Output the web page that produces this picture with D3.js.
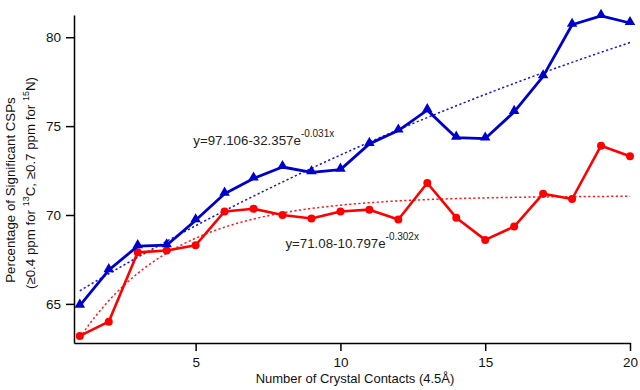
<!DOCTYPE html>
<html>
<head>
<meta charset="utf-8">
<script src="https://cdn.jsdelivr.net/npm/d3@7"></script>
<style>
  body { margin: 0; background: #fff; }
  svg { font-family: "Liberation Sans", Arial, sans-serif; }
  .axis path, .axis line { stroke: #000; stroke-width: 1.5; }
  .axis text { font-size: 13.5px; fill: #111; }
</style>
</head>
<body>
<svg id="chart" width="640" height="390"></svg>
<script>
// number of crystal contacts
var contacts = [1,2,3,4,5,6,7,8,9,10,11,12,13,14,15,16,17,18,19,20];
// blue triangles
var blueVals = [64.9,66.9,68.25,68.3,69.7,71.2,72.05,72.7,72.4,72.55,74.0,74.75,75.9,74.35,74.3,75.8,77.8,80.7,81.2,80.8];
// red circles
var redVals = [63.2,64.0,67.9,68.0,68.3,70.2,70.35,70.0,69.8,70.2,70.3,69.75,71.8,69.85,68.6,69.35,71.2,70.9,73.9,73.3];
// fits y = a - b*exp(c*x), as printed on the chart
var blueFit = [97.106, 32.357, -0.031];
var redFit = [71.08, 10.797, -0.302];
var xTicks = [5,10,15,20];
var yTicks = [65,70,75,80];

var svg = d3.select("#chart");
var pLeft = 74, pRight = 630, pTop = 15, pBottom = 343;

var x = d3.scaleLinear().domain([0.8, 20]).range([pLeft, pRight]);
var y = d3.scaleLinear().domain([62.8, 81.25]).range([pBottom, pTop]);

svg.append("g")
  .attr("class", "axis")
  .attr("transform", "translate(0," + pBottom + ")")
  .call(d3.axisBottom(x).tickValues(xTicks).tickSize(8).tickSizeOuter(0).tickPadding(6));

svg.append("g")
  .attr("class", "axis")
  .attr("transform", "translate(" + pLeft + ",0)")
  .call(d3.axisLeft(y).tickValues(yTicks).tickSize(8).tickSizeOuter(0).tickPadding(5));

// fit curves (dotted)
function fitLine(p) {
  var pts = d3.range(1, 20.001, 0.1).map(function(v) { return [v, p[0] - p[1]*Math.exp(p[2]*v)]; });
  return d3.line().x(function(d){ return x(d[0]); }).y(function(d){ return y(d[1]); })(pts);
}
svg.append("path").attr("d", fitLine(blueFit))
  .attr("fill", "none").attr("stroke", "#1414d8").attr("stroke-width", 1.5).attr("stroke-dasharray", "2.2,2.4");
svg.append("path").attr("d", fitLine(redFit))
  .attr("fill", "none").attr("stroke", "#ff1a1a").attr("stroke-width", 1.5).attr("stroke-dasharray", "2.2,2.4");

var line = d3.line().x(function(d, i){ return x(contacts[i]); }).y(function(d){ return y(d); });

// red series
svg.append("path").datum(redVals).attr("d", line)
  .attr("fill", "none").attr("stroke", "#ff0000").attr("stroke-width", 2.6).attr("stroke-linejoin", "round");
svg.selectAll(".dotR").data(redVals).enter().append("circle")
  .attr("cx", function(d, i){ return x(contacts[i]); })
  .attr("cy", function(d){ return y(d); })
  .attr("r", 4).attr("fill", "#ff0000");

// blue series
svg.append("path").datum(blueVals).attr("d", line)
  .attr("fill", "none").attr("stroke", "#0000cc").attr("stroke-width", 2.8).attr("stroke-linejoin", "round");
var tri = d3.symbol().type(d3.symbolTriangle).size(48);
svg.selectAll(".triB").data(blueVals).enter().append("path")
  .attr("d", tri)
  .attr("transform", function(d, i){ return "translate(" + x(contacts[i]) + "," + (y(d) - 1) + ")"; })
  .attr("fill", "#0000cc");

// fit equations
function eq(px, py, main, sup) {
  var t = svg.append("text").attr("x", px).attr("y", py).attr("font-size", 13.3).attr("fill", "#222");
  t.append("tspan").text(main);
  t.append("tspan").attr("dy", -8).attr("font-size", 10).text(sup);
}
eq(x(4.92), y(73.94), "y=97.106-32.357e", "-0.031x");
eq(x(8.1), y(68.15), "y=71.08-10.797e", "-0.302x");

// axis titles
svg.append("text").attr("x", 355).attr("y", 383)
  .attr("text-anchor", "middle").attr("font-size", 13).attr("fill", "#111")
  .text("Number of Crystal Contacts (4.5Å)");

svg.append("text").attr("transform", "translate(15,190) rotate(-90)")
  .attr("text-anchor", "middle").attr("font-size", 13.3).attr("fill", "#111")
  .text("Percentage of Significant CSPs");

var t2 = svg.append("text").attr("transform", "translate(35,183) rotate(-90)")
  .attr("text-anchor", "middle").attr("font-size", 13.3).attr("fill", "#111");
t2.append("tspan").text("(≥0.4 ppm for ");
t2.append("tspan").attr("font-size", 9).attr("dy", -6).text("13");
t2.append("tspan").attr("dy", 6).text("C, ≥0.7 ppm for ");
t2.append("tspan").attr("font-size", 9).attr("dy", -6).text("15");
t2.append("tspan").attr("dy", 6).text("N)");
</script>
</body>
</html>
